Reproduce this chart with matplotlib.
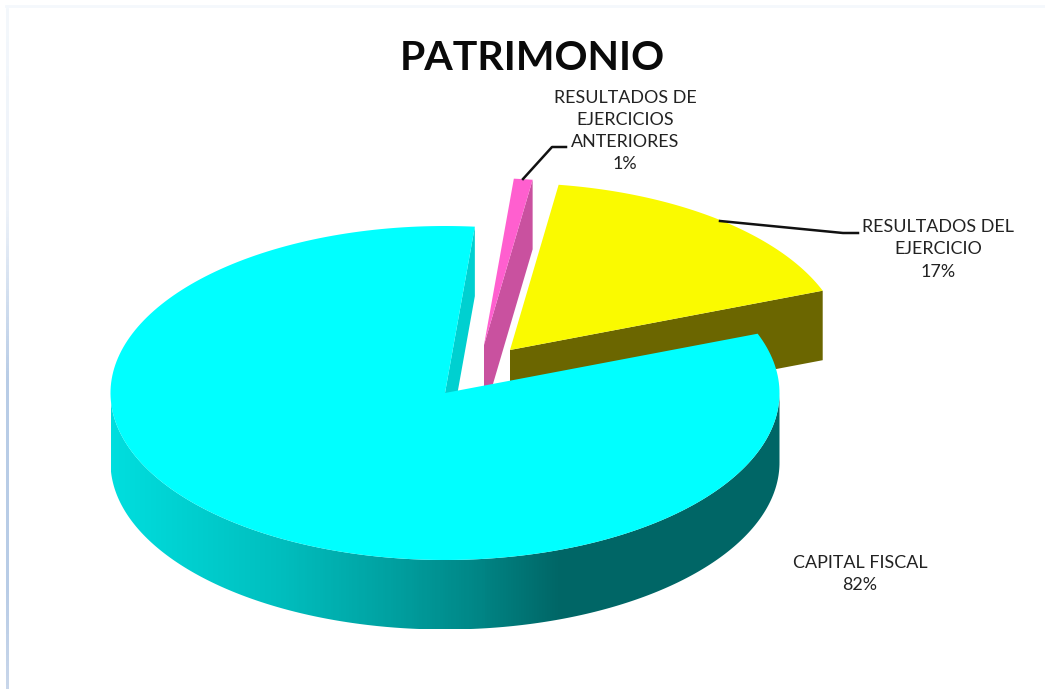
import numpy as np
import matplotlib
matplotlib.use("Agg")
import matplotlib.pyplot as plt
from matplotlib.colors import LinearSegmentedColormap
from matplotlib.patches import Polygon

# ---- data ----
categories = ["RESULTADOS DEL\nEJERCICIO", "RESULTADOS DE\nEJERCICIOS\nANTERIORES", "CAPITAL FISCAL"]
values = [16.9, 0.9, 82.2]
pct_labels = ["17%", "1%", "82%"]
colors_top = ["#FAFA00", "#FF5FCF", "#00FFFF"]
colors_wall = ["#6B6600", "#C9519F", "#00D0D0"]
title = "PATRIMONIO"

# ---- layout (pixels) ----
W, H = 1045, 689
START = 20.8
RX, RY, DEPTH = 334.5, 167, 69.5
centers = [(510, 350), (484, 345), (445, 393)]
label_xy = [(938, 249.5), (625, 131), (860, 574)]
leaders = [[(720, 221), (843, 233), (858, 233)], [(523, 179), (552, 147), (566, 147)], None]
FONT = "Lato"

fig = plt.figure(figsize=(W / 100, H / 100), dpi=100)
ax = fig.add_axes([0, 0, 1, 1])
ax.set_xlim(0, W)
ax.set_ylim(H, 0)
ax.axis("off")

# faint frame
frame = LinearSegmentedColormap.from_list("f", [(0, "#F4F8FC"), (0.3, "#EDF2F9"), (0.55, "#B8CCE6"), (0.85, "#B8CCE6"), (1, "#C8D6EA")])
ax.imshow(np.linspace(0, 1, 200)[:, None], extent=(6, 8.5, H, 5), cmap=frame, aspect="auto", zorder=1)
ax.plot([6, W], [6, 6], color="#F4F8FC", lw=2, zorder=1)
ax.set_xlim(0, W)
ax.set_ylim(H, 0)

def arc(c, a0, a1, dy=0, n=240):
    t = np.radians(np.linspace(a0, a1, n))
    return np.c_[c[0] + RX * np.cos(t), c[1] - RY * np.sin(t) + dy]

wall_cmap = LinearSegmentedColormap.from_list(
    "w", [(0, "#00DEDE"), (0.254, "#00BEBE"), (0.433, "#009E9E"), (0.553, "#008585"), (0.673, "#006666"), (1, "#006666")])

angles = START + np.r_[0, np.cumsum(values)] * 360 / np.sum(values)
z = 3
for i, (v, c) in enumerate(zip(values, centers)):
    a0, a1 = angles[i], angles[i + 1]
    top = np.vstack([[c], arc(c, a0, a1)])
    # radial wall seen from the right side of a slice
    if i < 2:
        p0 = np.array(c)
        p1 = arc(c, a0, a0, n=1)[0]
        ax.add_patch(Polygon([p0, p1, p1 + [0, DEPTH], p0 + [0, DEPTH]], fc=colors_wall[i], ec="none", zorder=z))
        ax.add_patch(Polygon(top, fc=colors_top[i], ec="none", zorder=z + 1))
    else:
        # inner wall at the notch
        p0 = np.array(c)
        p1 = arc(c, a0, a0, n=1)[0]
        ax.add_patch(Polygon([p0, p1, p1 + [0, DEPTH], p0 + [0, DEPTH]], fc=colors_wall[i], ec="none", zorder=z))
        # rounded outer wall with gradient
        outer = np.vstack([arc(c, 180, 360), arc(c, 360, 180, dy=DEPTH)])
        wall = Polygon(outer, fc="none", ec="none", zorder=z + 1)
        ax.add_patch(wall)
        im = ax.imshow(np.linspace(0, 1, 669)[None, :], extent=(c[0] - RX, c[0] + RX, c[1] + RY + DEPTH, c[1]),
                       cmap=wall_cmap, aspect="auto", zorder=z + 1)
        im.set_clip_path(wall)
        ax.add_patch(Polygon(top, fc=colors_top[i], ec="none", zorder=z + 2))
    z += 3
ax.set_xlim(0, W)
ax.set_ylim(H, 0)

ax.text(532, 58, title, ha="center", va="center", fontsize=29.5, fontweight="bold", family=FONT, color="#0A0A0A", zorder=20)
for cat, pct, xy, ld in zip(categories, pct_labels, label_xy, leaders):
    ax.text(xy[0], xy[1], cat + "\n" + pct, ha="center", va="center", fontsize=12.9, family=FONT,
            color="#222222", linespacing=1.48, zorder=20)
    if ld:
        ax.plot(*zip(*ld), color="#111111", lw=1.8, zorder=19)

fig.savefig("out.png", dpi=100, facecolor="white")
